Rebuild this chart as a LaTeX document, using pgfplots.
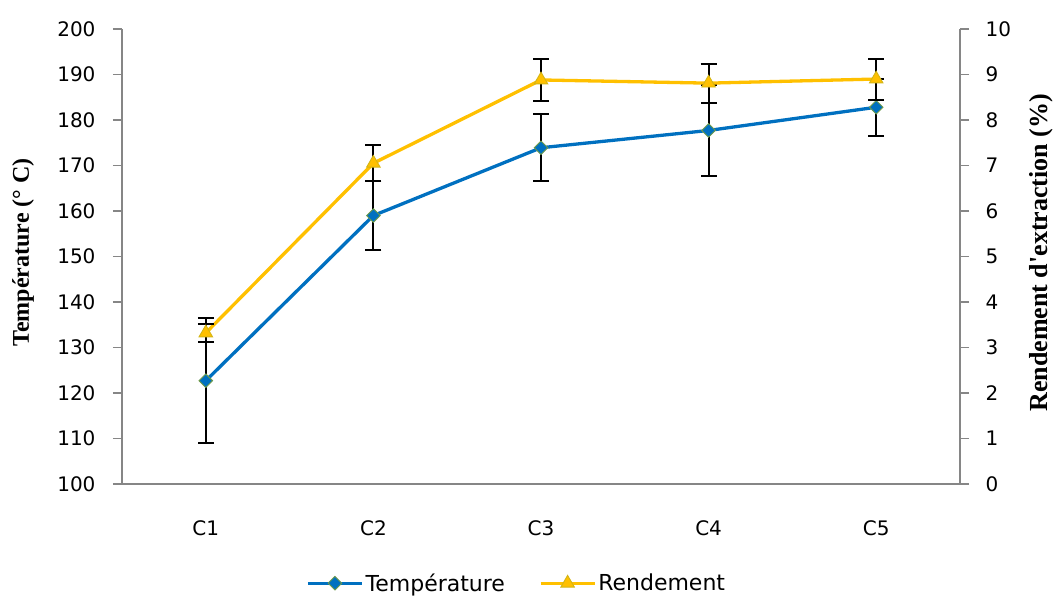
\documentclass[border=0pt]{standalone}
\usepackage{fontspec}
\setmainfont{DejaVu Sans}
\newfontfamily\timesfont{Liberation Serif}
\usepackage{pgfplots}
\usepackage{pgfplotstable}
\pgfplotsset{compat=1.18}
\definecolor{tblue}{HTML}{0070C0}
\definecolor{ryellow}{HTML}{FFC000}
\definecolor{axgray}{HTML}{868686}
\definecolor{medge}{HTML}{6E9A4A}

\pgfplotstableread{
x y e
1 122.7 13.7
2 159.0 7.5
3 173.9 7.4
4 177.7 10.0
5 182.8 6.3
}\temptable

\pgfplotstableread{
x y e
1 3.32 0.19
2 7.05 0.39
3 8.88 0.47
4 8.81 0.43
5 8.90 0.45
}\rendtable

\begin{document}
\begin{tikzpicture}
\useasboundingbox (-122pt,-112pt) rectangle (931pt,484pt);
\pgfplotsset{
  base/.style={
    scale only axis, width=838pt, height=455pt,
    xmin=0.5, xmax=5.5,
    tick label style={font=\fontsize{20}{23}\selectfont},
    /pgf/number format/assume math mode=true,
    axis line style={axgray, line width=1.6pt},
    major tick length=9pt, tick align=outside,
    y tick style={axgray, line width=1.6pt},
    x tick style={draw=none},
  },
  tstyle/.style={tblue, line width=3.3pt, mark=square*,
    mark options={rotate=45, fill=tblue, draw=medge, line width=0.9pt, solid}, mark size=4.8pt},
  rstyle/.style={ryellow, line width=3.3pt, mark=triangle*,
    mark options={fill=ryellow, draw=ryellow!70!medge, line width=0.9pt, solid}, mark size=7.8pt},
  ebars/.style={error bars/.cd, y dir=both, y explicit,
    error bar style={black, line width=2pt},
    error mark options={rotate=90, black, mark size=8pt, line width=2pt}},
}
\begin{axis}[base,
  axis y line*=left, axis x line*=bottom,
  ymin=100, ymax=200, ytick={100,110,...,200},
  yticklabel style={xshift=-14pt},
  xtick={1,2,3,4,5}, xticklabels={C1,C2,C3,C4,C5},
  xticklabel style={yshift=-24pt},
  every axis y label/.style={at={(axis description cs:-0.118,0.509)}, anchor=center, rotate=90},
  ylabel={\timesfont\bfseries\fontsize{24}{28}\selectfont Température (° C)},
]
\addplot[tstyle, ebars] table[x=x, y=y, y error=e] {\temptable};
\end{axis}
\begin{axis}[base,
  axis y line*=right, axis x line=none,
  ymin=0, ymax=10, ytick={0,1,...,10},
  yticklabel style={xshift=13pt},
  every axis y label/.style={at={(axis description cs:1.097,0.508)}, anchor=center, rotate=90},
  ylabel={\timesfont\bfseries\fontsize{26}{30}\selectfont Rendement d'extraction (\%)},
  legend style={draw=none, at={(0.471,-0.218)}, anchor=center, legend columns=2,
    font=\fontsize{22}{26}\selectfont,
    /tikz/every even column/.append style={column sep=32pt}},
  legend image code/.code={\draw[mark repeat=2, mark phase=2, #1] plot coordinates {(0pt,0pt) (27pt,0pt) (54pt,0pt)};},
]
\addlegendimage{tstyle}
\addlegendentry{Température}
\addplot[rstyle, ebars] table[x=x, y=y, y error=e] {\rendtable};
\addlegendentry{Rendement}
\end{axis}
\end{tikzpicture}
\end{document}
